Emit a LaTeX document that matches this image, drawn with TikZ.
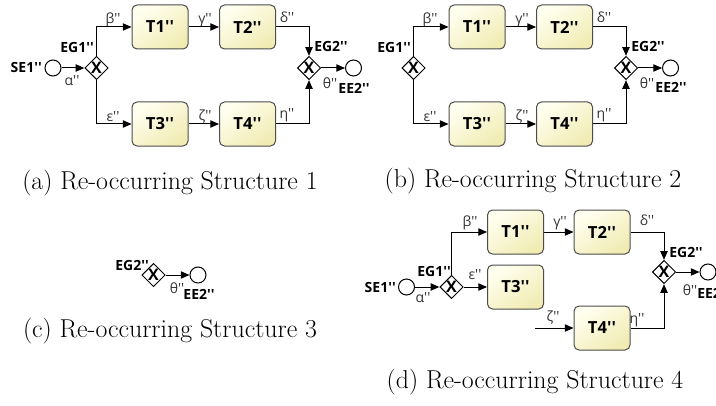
\documentclass[tikz,border=0pt]{standalone}
\usepackage{fontspec}
\newfontfamily\osans{Open Sans}
\usetikzlibrary{shapes.geometric,arrows.meta}
\definecolor{tasklight}{HTML}{FFFFF0}
\definecolor{taskdark}{HTML}{F1ECB4}
\definecolor{lblgray}{HTML}{333333}
\tikzset{
  task/.style={draw=black!70, line width=0.75pt, rounded corners=3.75pt, minimum width=42pt, minimum height=33pt,
    inner sep=0pt, top color=tasklight, bottom color=taskdark, shading angle=35,
    font=\osans\bfseries\fontsize{12.5}{14}\selectfont},
  gw/.style={diamond, draw, line width=0.75pt, fill=white, aspect=1, minimum size=17.5pt, inner sep=0pt,
    font=\osans\bfseries\fontsize{12}{12}\selectfont},
  ev/.style={circle, draw, line width=0.75pt, fill=white, minimum size=12pt, inner sep=0pt},
  lbl/.style={font=\osans\bfseries\fontsize{10.5}{12}\selectfont, inner sep=0pt},
  gl/.style={font=\osans\fontsize{10.5}{12}\selectfont, inner sep=0pt, text=lblgray},
  flow/.style={draw, line width=0.75pt, -{Triangle[length=6.5pt,width=5.5pt]}},
  captxt/.style={font=\fontsize{19.4}{23}\selectfont, inner sep=0pt}
}
\begin{document}
\begin{tikzpicture}[x=0.75pt,y=-0.75pt]
\useasboundingbox (0,0) rectangle (716,406);
% ---------------- panel (a)
\node[ev] (a-se) at (53,68) {};
\node[lbl, anchor=east] (a-sel) at (42,68) {SE1''};
\node[gw] (a-g1) at (96.5,68) {X};
\node[lbl, anchor=east] (a-g1l) at (94,48) {EG1''};
\node[task] (a-t1) at (160,27) {T1''};
\node[task] (a-t2) at (247.5,27) {T2''};
\node[task] (a-t3) at (160,124) {T3''};
\node[task] (a-t4) at (247.5,124) {T4''};
\node[gw] (a-g2) at (309,68) {X};
\node[lbl, anchor=west] (a-g2l) at (314,47) {EG2''};
\node[ev] (a-ee) at (353.5,68) {};
\node[lbl] (a-eel) at (354,88) {EE2''};
\node[gl] (a-la) at (72,81) {α''};
\node[gl] (a-lb) at (113,20) {β''};
\node[gl] (a-le) at (113,117) {ε''};
\node[gl] (a-lg) at (205,20) {γ''};
\node[gl] (a-lz) at (205,117) {ζ''};
\node[gl] (a-ld) at (287,17) {δ''};
\node[gl] (a-lh) at (287,115) {η''};
\node[gl] (a-lt) at (330,83) {θ''};
\draw[flow] (a-se) -- (a-g1);
\draw[flow] (a-g1.north) |- (a-t1);
\draw[flow] (a-g1.south) |- (a-t3);
\draw[flow] (a-t1) -- (a-t2);
\draw[flow] (a-t3) -- (a-t4);
\draw[flow] (a-t2) -| (a-g2);
\draw[flow] (a-t4) -| (a-g2);
\draw[flow] (a-g2) -- (a-ee);
\node[captxt] (a-cap) at (170,183) {(a) Re-occurring Structure 1};
% ---------------- panel (b)
\node[gw] (b-g1) at (413.5,68) {X};
\node[lbl, anchor=east] (b-g1l) at (411,48) {EG1''};
\node[task] (b-t1) at (477,27) {T1''};
\node[task] (b-t2) at (564.5,27) {T2''};
\node[task] (b-t3) at (477,124) {T3''};
\node[task] (b-t4) at (564.5,124) {T4''};
\node[gw] (b-g2) at (626,68) {X};
\node[lbl, anchor=west] (b-g2l) at (631,47) {EG2''};
\node[ev] (b-ee) at (670.5,68) {};
\node[lbl] (b-eel) at (671,87) {EE2''};
\node[gl] (b-lb) at (430,20) {β''};
\node[gl] (b-le) at (430,117) {ε''};
\node[gl] (b-lg) at (522,20) {γ''};
\node[gl] (b-lz) at (522,117) {ζ''};
\node[gl] (b-ld) at (604,17) {δ''};
\node[gl] (b-lh) at (604,115) {η''};
\node[gl] (b-lt) at (647,83) {θ''};
\draw[flow] (b-g1.north) |- (b-t1);
\draw[flow] (b-g1.south) |- (b-t3);
\draw[flow] (b-t1) -- (b-t2);
\draw[flow] (b-t3) -- (b-t4);
\draw[flow] (b-t2) -| (b-g2);
\draw[flow] (b-t4) -| (b-g2);
\draw[flow] (b-g2) -- (b-ee);
\node[captxt] (b-cap) at (533,181) {(b) Re-occurring Structure 2};
% ---------------- panel (c)
\node[gw] (c-g2) at (153.5,275) {X};
\node[lbl, anchor=east] (c-g2l) at (149,265) {EG2''};
\node[ev] (c-ee) at (198,275) {};
\node[lbl] (c-eel) at (199,294) {EE2''};
\node[gl] (c-lt) at (177,288) {θ''};
\draw[flow] (c-g2) -- (c-ee);
\node[captxt] (c-cap) at (170,331) {(c) Re-occurring Structure 3};
% ---------------- panel (d)
\node[ev] (d-se) at (406.5,287) {};
\node[lbl, anchor=east] (d-sel) at (396,287) {SE1''};
\node[gw] (d-g1) at (451.5,287) {X};
\node[lbl, anchor=east] (d-g1l) at (451,271) {EG1''};
\node[task] (d-t1) at (515.5,232) {T1''};
\node[task] (d-t3) at (515.5,287) {T3''};
\node[task] (d-t2) at (602,232) {T2''};
\node[task] (d-t4) at (602,328) {T4''};
\node[gw] (d-g2) at (664,272) {X};
\node[lbl, anchor=west] (d-g2l) at (669,252) {EG2''};
\node[ev] (d-ee) at (708,272) {};
\node[lbl, anchor=west] (d-eel) at (697,293) {EE2''};
\coordinate (d-zs) at (535,328);
\node[gl] (d-la) at (423,298) {α''};
\node[gl] (d-lb) at (470,223) {β''};
\node[gl] (d-le) at (475,275) {ε''};
\node[gl] (d-lg) at (560,223) {γ''};
\node[gl] (d-ld) at (647,220) {δ''};
\node[gl] (d-lz) at (553,318) {ζ''};
\node[gl] (d-lh) at (637,320) {η''};
\node[gl] (d-lt) at (690,290) {θ''};
\draw[flow] (d-se) -- (d-g1);
\draw[flow] (d-g1.north) |- (d-t1);
\draw[flow] (d-g1) -- (d-t3);
\draw[flow] (d-t1) -- (d-t2);
\draw[flow] (d-t2) -| (d-g2);
\draw[flow] (d-zs) -- (d-t4);
\draw[flow] (d-t4) -| (d-g2);
\draw[flow] (d-g2) -- (d-ee);
\node[captxt] (d-cap) at (535,382) {(d) Re-occurring Structure 4};
\end{tikzpicture}
\end{document}
